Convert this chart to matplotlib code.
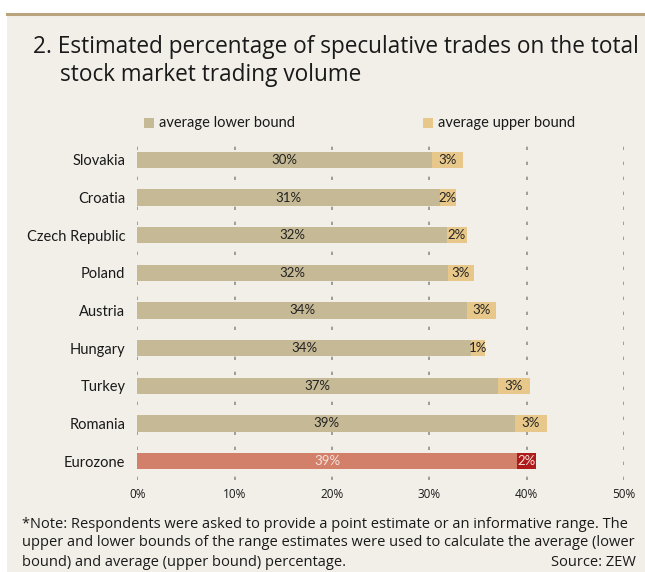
import matplotlib
matplotlib.use("Agg")
import matplotlib.pyplot as plt
from matplotlib.patches import Rectangle
from matplotlib.lines import Line2D
import numpy as np

countries = ["Slovakia", "Croatia", "Czech Republic", "Poland", "Austria",
             "Hungary", "Turkey", "Romania", "Eurozone"]
lower = [30.3, 31.1, 31.8, 31.9, 33.9, 34.3, 37.1, 38.8, 39.0]
upper = [3.2, 1.6, 2.1, 2.7, 3.0, 1.4, 3.2, 3.3, 2.0]
lower_labels = ["30%", "31%", "32%", "32%", "34%", "34%", "37%", "39%", "39%"]
upper_labels = ["3%", "2%", "2%", "3%", "3%", "1%", "3%", "3%", "2%"]
xticks = [0, 10, 20, 30, 40, 50]

BG = "#f2efe9"
C_LOW, C_UP = "#c6b995", "#e8c88a"
C_EZ_LOW, C_EZ_UP = "#d2806a", "#ae1b1b"
LBL = "Lato"
TXT = "Open Sans"

W, H = 645, 572
fig = plt.figure(figsize=(W / 100, H / 100), dpi=100)
fig.patch.set_facecolor("white")
fig.patches.append(Rectangle((7 / W, 0), 1 - 7 / W, 1 - 14 / H, transform=fig.transFigure,
                             facecolor=BG, edgecolor="none", zorder=-5))
fig.add_artist(Line2D([7 / W, 1], [1 - 14 / H, 1 - 14 / H], color="#b9a47d", lw=2.2,
                      transform=fig.transFigure))

fig.text(33 / W, 1 - 47 / H, "2. Estimated percentage of speculative trades on the total",
         family=TXT, fontsize=16.3, color="#1a1a1a", va="center", ha="left")
fig.text(60 / W, 1 - 75 / H, "stock market trading volume",
         family=TXT, fontsize=16.3, color="#1a1a1a", va="center", ha="left")

ax = fig.add_axes([137.3 / W, 1 - 480 / H, 486.7 / W, 339 / H])
ax.set_facecolor("none")
y = np.arange(len(countries))
low_cols = [C_LOW] * (len(countries) - 1) + [C_EZ_LOW]
up_cols = [C_UP] * (len(countries) - 1) + [C_EZ_UP]
ax.barh(y, lower, height=0.43, color=low_cols, zorder=2)
ax.barh(y, upper, left=lower, height=0.43, color=up_cols, zorder=2)

for i in range(len(countries)):
    tc = "#f6e4dd" if countries[i] == "Eurozone" else "#222222"
    ax.text(lower[i] / 2, y[i], lower_labels[i], ha="center", va="center",
            family=LBL, fontsize=9.5, color=tc, zorder=3)
    ax.text(lower[i] + upper[i] / 2, y[i], upper_labels[i], ha="center", va="center",
            family=LBL, fontsize=9.5, color=tc, zorder=3)

for xv in xticks:
    ax.axvline(xv, color="#8f8f8f", lw=1.2, ls=(0, (2, 7)), zorder=1)

ax.set_xlim(0, 50)
ax.set_ylim(len(countries) - 0.5, -0.5)
ax.set_yticks(y)
ax.set_yticklabels(countries, family=LBL, fontsize=10.5, color="#1a1a1a")
ax.set_xticks(xticks)
ax.set_xticklabels([f"{v}%" for v in xticks], family=TXT, fontsize=8.5, color="#1a1a1a")
ax.tick_params(axis="y", length=0, pad=8.5)
ax.tick_params(axis="x", length=0, pad=6)
for s in ax.spines.values():
    s.set_visible(False)

# legend
for xs, label, col in [(144, "average lower bound", C_LOW), (423, "average upper bound", C_UP)]:
    fig.patches.append(Rectangle((xs / W, 1 - 128 / H), 10 / W, 10 / H,
                                 transform=fig.transFigure, facecolor=col, edgecolor="none"))
    fig.text((xs + 15) / W, 1 - 123 / H, label, family=LBL, fontsize=10.5,
             color="#1a1a1a", va="center", ha="left")

note = ["*Note: Respondents were asked to provide a point estimate or an informative range. The",
        "upper and lower bounds of the range estimates were used to calculate the average (lower",
        "bound) and average (upper bound) percentage."]
for k, line in enumerate(note):
    fig.text(22 / W, 1 - (524 + 19 * k) / H, line, family=TXT, fontsize=10.5,
             color="#1a1a1a", va="center", ha="left")
fig.text(636 / W, 1 - 562 / H, "Source: ZEW", family=TXT, fontsize=10.5,
         color="#1a1a1a", va="center", ha="right")

fig.savefig("out.png", dpi=100, facecolor=fig.get_facecolor())
